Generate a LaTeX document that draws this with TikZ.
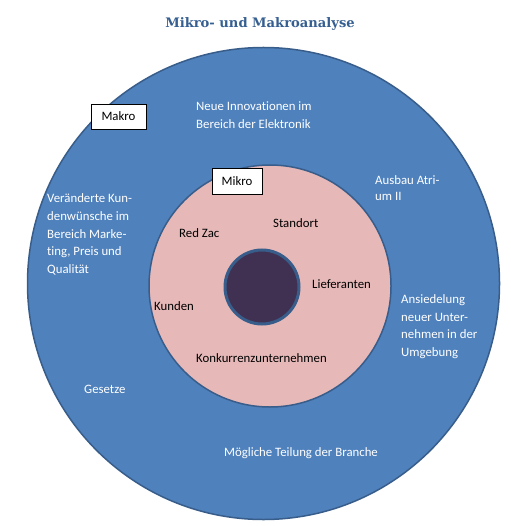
\documentclass[tikz,border=0pt]{standalone}
\usepackage{fontspec}
\setmainfont{Carlito}[Ligatures=NoCommon]
\newfontfamily\titlefont{DejaVu Serif}
\definecolor{outerblue}{HTML}{4F81BD}
\definecolor{ringline}{HTML}{385D8A}
\definecolor{pinkfill}{HTML}{E6B9B8}
\definecolor{corefill}{HTML}{403152}
\definecolor{titleblue}{HTML}{365F91}
\begin{document}
\begin{tikzpicture}[x=1pt,y=-1pt,
  lbl/.style={font=\fontsize{12.8}{17.7}\selectfont, inner sep=0pt, align=left},
  wlbl/.style={lbl, text=white},
  blbl/.style={lbl, text=black},
  tagbox/.style={draw=black, fill=white, line width=0.8pt, font=\fontsize{12.8}{16}\selectfont, minimum height=25pt, inner sep=0pt}]
\useasboundingbox (0,0) rectangle (510,526);
\node[font=\titlefont\bfseries\fontsize{13.1}{16}\selectfont, text=titleblue] (title) at (260,24) {Mikro- und Makroanalyse};
\node[circle, draw=ringline, fill=outerblue, line width=1.5pt, minimum size=472pt, inner sep=0pt] (outer) at (263.5,283.5) {};
\node[circle, draw=ringline, fill=pinkfill, line width=1.5pt, minimum size=242pt, inner sep=0pt] (inner) at (270,286) {};
\node[circle, draw=ringline, fill=corefill, line width=3pt, minimum size=74pt, inner sep=0pt] (core) at (262,287) {};
\node[tagbox, minimum width=55pt] (makro) at (118.5,116.5) {Makro};
\node[tagbox, minimum width=50pt, minimum height=26pt] (mikro) at (237,181) {Mikro};
\node[wlbl, anchor=base west] (neue) at (196,128.3) {Neue Innovationen im\\Bereich der Elektronik};
\node[wlbl, anchor=base west, font=\fontsize{12.8}{16}\selectfont] (ausbau) at (375,200.5) {Ausbau Atri-\\um II};
\node[wlbl, anchor=base west] (veraend) at (47,273.5) {Veränderte Kun-\\denwünsche im\\Bereich Marke-\\ting, Preis und\\Qualität};
\node[wlbl, anchor=base west] (ansied) at (401,356.5) {Ansiedelung\\neuer Unter-\\nehmen in der\\Umgebung};
\node[wlbl, anchor=base west] (gesetze) at (84,393.5) {Gesetze};
\node[wlbl, anchor=base west] (teilung) at (224,456.5) {Mögliche Teilung der Branche};
\node[blbl, anchor=base west] (redzac) at (179,237.5) {Red Zac};
\node[blbl, anchor=base west] (standort) at (273,227.5) {Standort};
\node[blbl, anchor=base west] (liefer) at (312,288.5) {Lieferanten};
\node[blbl, anchor=base west] (kunden) at (154,310.5) {Kunden};
\node[blbl, anchor=base west] (konk) at (196,362.5) {Konkurrenzunternehmen};
\end{tikzpicture}
\end{document}
